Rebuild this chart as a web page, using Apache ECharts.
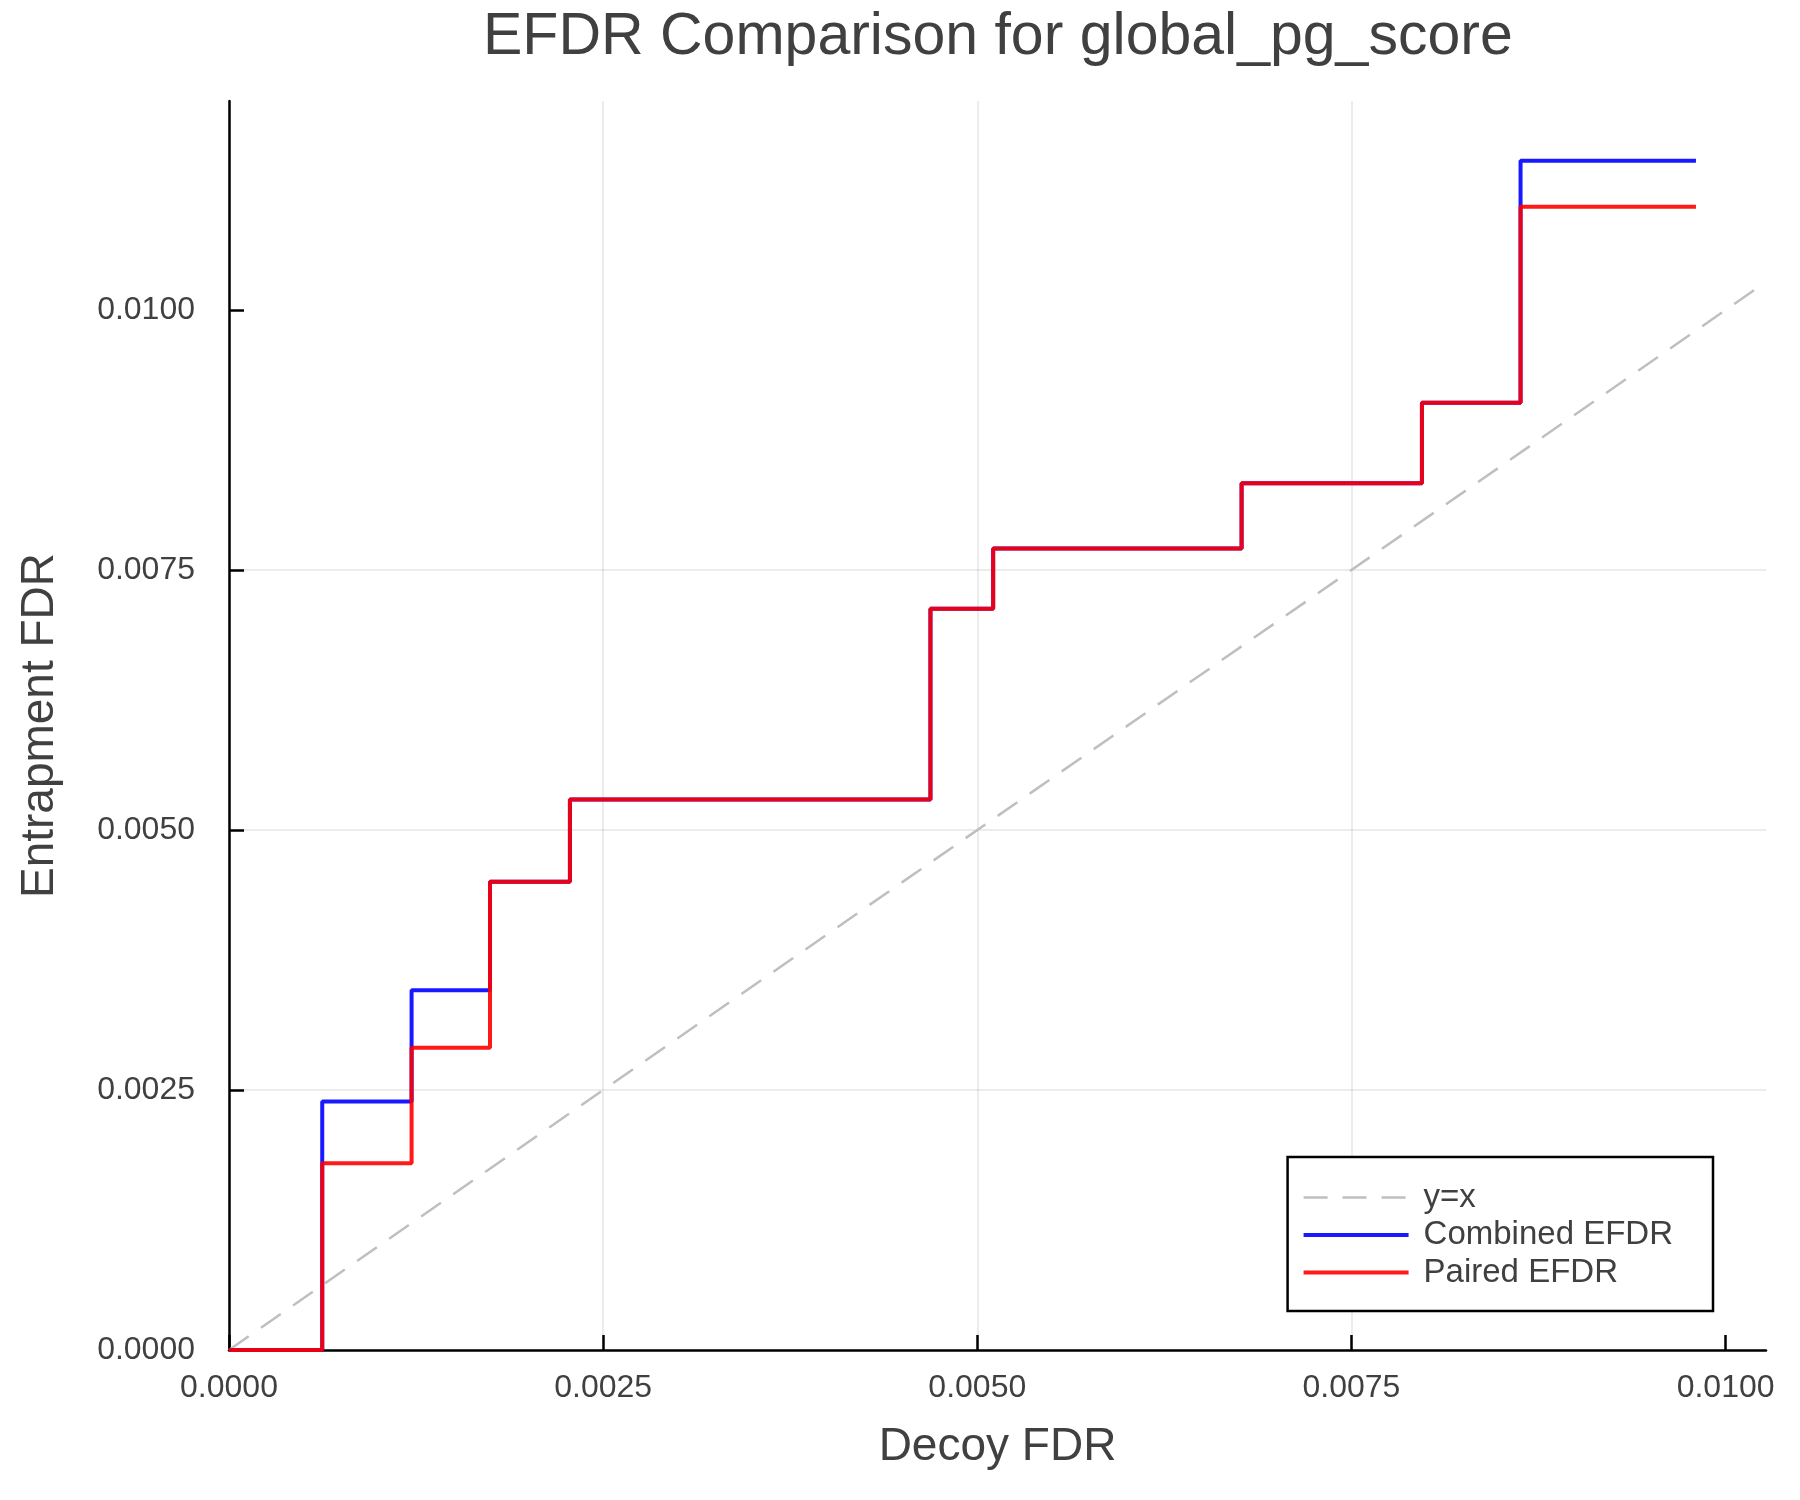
<!DOCTYPE html>
<html>
<head>
<meta charset="utf-8">
<title>EFDR Comparison for global_pg_score</title>
<script src="https://cdn.jsdelivr.net/npm/echarts@6/dist/echarts.min.js"></script>
<style>
  html, body { margin: 0; padding: 0; background: #ffffff; }
  #canvas_main { width: 1800px; height: 1500px; }
</style>
</head>
<body>
<div id="canvas_main"></div>
<script>
// step positions (decoy FDR) and entrapment FDR values
var decoyFdr    = [0, 0.000623, 0.001220, 0.001744, 0.002278, 0.004687, 0.005106, 0.006766, 0.007971, 0.008630, 0.009802];
var combinedFdr = [0, 0.002389, 0.003460, 0.004502, 0.005293, 0.007127, 0.007707, 0.008335, 0.009108, 0.011435, 0.011435];
var pairedFdr   = [0, 0.001796, 0.002906, 0.004502, 0.005293, 0.007127, 0.007707, 0.008335, 0.009108, 0.010992, 0.010992];
var diagonalEnds = [0, 0.01027];
var tickValues  = [0, 0.0025, 0.005, 0.0075, 0.01];

var fontName = '"Liberation Sans", Arial, Helvetica, sans-serif';
var textColor = '#404040';

function pairs(xs, ys) {
	var out = [];
	for (var i = 0; i < xs.length; i++) out.push([xs[i], ys[i]]);
	return out;
}

var myChart = echarts.init(document.getElementById('canvas_main'));

function axisCommon() {
	return {
		type: 'value',
		min: 0,
		interval: 0.0025,
		axisLine: { show: true, onZero: false, lineStyle: { color: '#000000', width: 2.5 } },
		axisTick: { show: true, inside: true, length: 15, customValues: tickValues, lineStyle: { color: '#000000', width: 2.5 } },
		axisLabel: {
			customValues: tickValues,
			color: textColor,
			fontFamily: fontName,
			fontSize: 32,
			formatter: function (v) { return v.toFixed(4); }
		},
		splitLine: { show: true, showMaxLine: false, lineStyle: { color: 'rgba(0,0,0,0.1)', width: 1.5 } },
		nameLocation: 'middle',
		nameTextStyle: { color: textColor, fontFamily: fontName, fontSize: 46 }
	};
}

var xAxis = axisCommon();
xAxis.max = 0.01027;
xAxis.name = 'Decoy FDR';
xAxis.nameGap = 74;
xAxis.axisLabel.margin = 22;

var yAxis = axisCommon();
yAxis.max = 0.01201;
yAxis.name = 'Entrapment FDR';
yAxis.nameGap = 166;
yAxis.axisLabel.margin = 34;

var option = {
	backgroundColor: '#ffffff',
	animation: false,
	title: {
		text: 'EFDR Comparison for global_pg_score',
		left: 483,
		top: 8,
		padding: 0,
		textStyle: { color: textColor, fontFamily: fontName, fontSize: 59, fontWeight: 'normal' }
	},
	grid: {
		left: 229,
		right: 34,
		top: 101,
		bottom: 150,
		outerBoundsMode: 'none'
	},
	legend: {
		orient: 'vertical',
		right: 87,
		top: 1157,
		padding: [24, 40, 22, 14],
		itemWidth: 105,
		itemHeight: 33,
		itemGap: 4.5,
		borderColor: '#000000',
		borderWidth: 2.5,
		backgroundColor: '#ffffff',
		itemStyle: { opacity: 0 },
		lineStyle: { width: 'inherit' },
		textStyle: { color: textColor, fontFamily: fontName, fontSize: 33, padding: [0, 0, 0, 10] },
		data: ['y=x', 'Combined EFDR', 'Paired EFDR']
	},
	xAxis: xAxis,
	yAxis: yAxis,
	series: [
		{
			name: 'y=x',
			type: 'line',
			data: pairs(diagonalEnds, diagonalEnds),
			showSymbol: false,
			symbol: 'none',
			itemStyle: { color: '#bfbfbf' },
			lineStyle: { color: '#bfbfbf', width: 2.5, type: [24, 15] }
		},
		{
			name: 'Combined EFDR',
			type: 'line',
			step: 'end',
			data: pairs(decoyFdr, combinedFdr),
			showSymbol: false,
			symbol: 'none',
			itemStyle: { color: 'rgba(0,0,255,0.9)' },
			lineStyle: { color: 'rgba(0,0,255,0.9)', width: 4 }
		},
		{
			name: 'Paired EFDR',
			type: 'line',
			step: 'end',
			data: pairs(decoyFdr, pairedFdr),
			showSymbol: false,
			symbol: 'none',
			itemStyle: { color: 'rgba(255,0,0,0.9)' },
			lineStyle: { color: 'rgba(255,0,0,0.9)', width: 4 }
		}
	]
};
myChart.setOption(option);
</script>
</body>
</html>
